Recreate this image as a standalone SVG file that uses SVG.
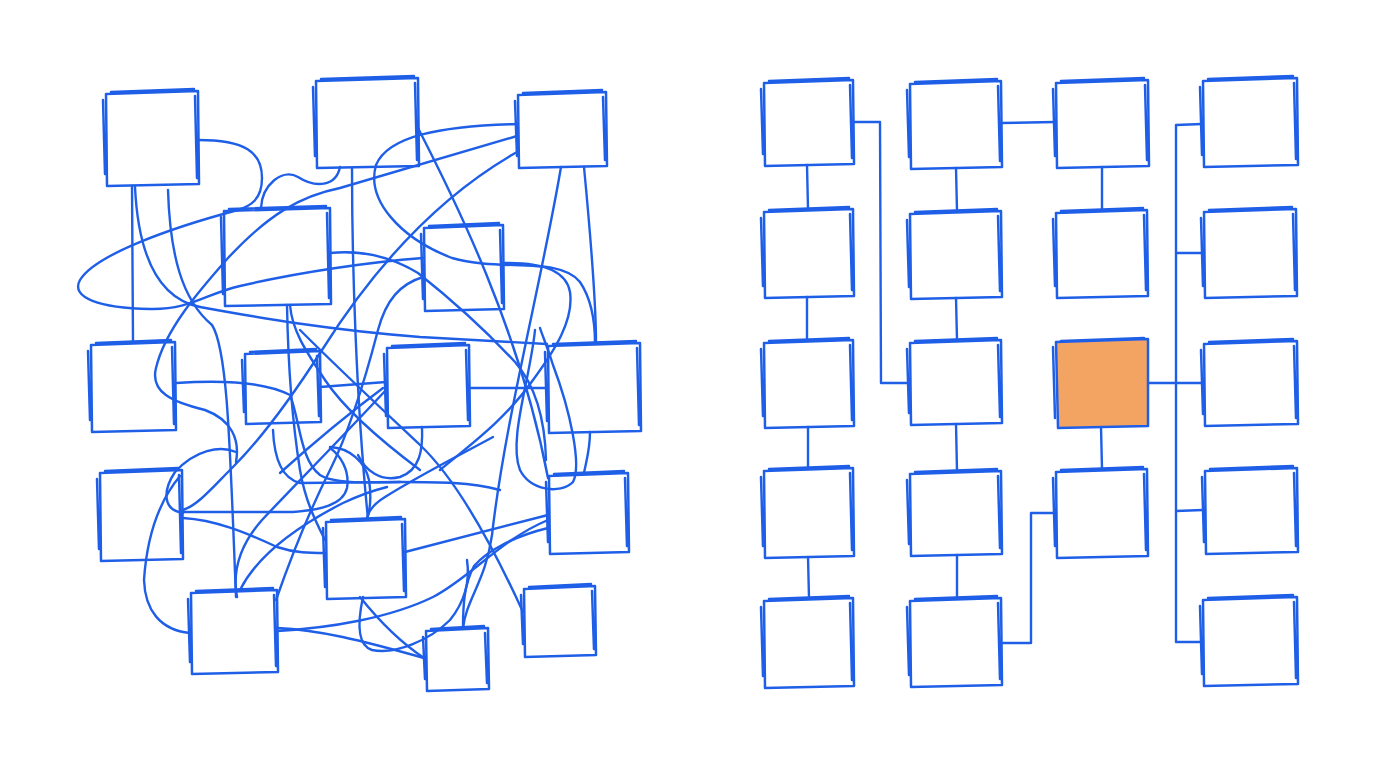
<svg xmlns="http://www.w3.org/2000/svg" width="1376" height="768" viewBox="0 0 1376 768">
<style>
.b{fill:none;stroke:#1f5fe8;stroke-width:2.5;stroke-linecap:round;stroke-linejoin:round}
.c{fill:none;stroke:#1f5fe8;stroke-width:2.4;stroke-linecap:round;stroke-linejoin:round}
.o{fill:#f4a462;stroke:#1f5fe8;stroke-width:2.5;stroke-linejoin:round}
</style>
<rect width="1376" height="768" fill="#ffffff"/>
<g id="tangle-connectors">
<path class="c" d="M198,140 C245,140 262,152 262,178 C262,200 250,206 238,210 C170,228 95,255 80,280 C70,298 100,308 150,309 C190,310 205,294 240,286 C300,272 370,262 423,258"/>
<path class="c" d="M132,186 L133,342"/>
<path class="c" d="M135,187 C138,250 155,298 200,307 C260,318 330,330 420,337 L547,344"/>
<path class="c" d="M168,190 C170,255 182,300 212,325 C228,350 230,450 236,597"/>
<path class="c" d="M352,168 C352,260 356,400 368,519"/>
<path class="c" d="M340,167 C336,187 315,188 298,177 C282,168 262,185 261,208"/>
<path class="c" d="M418,128 C455,200 520,330 548,478"/>
<path class="c" d="M517,124 C440,126 388,136 376,165 C366,200 400,238 452,258 C500,272 560,256 580,282 C592,300 595,322 595,343"/>
<path class="c" d="M517,136 L340,188 C300,196 268,215 228,258 C198,292 165,330 156,368 C150,392 172,402 205,410 C232,420 240,440 236,462"/>
<path class="c" d="M561,167 C542,280 505,420 492,535 C486,580 466,600 463,628"/>
<path class="c" d="M584,167 C590,230 596,300 596,343"/>
<path class="c" d="M517,152 C450,190 385,250 322,350 C290,400 262,438 232,468 C212,488 198,505 183,510"/>
<path class="c" d="M423,277 C400,284 386,300 378,330 C365,380 350,430 330,470 C305,520 290,560 276,600"/>
<path class="c" d="M330,253 C360,250 390,256 418,273 C452,300 490,335 515,362 C535,385 545,420 546,460"/>
<path class="c" d="M503,263 C540,262 566,270 570,292 C574,320 555,350 533,380 C505,420 470,445 440,470"/>
<path class="c" d="M469,388 L547,388"/>
<path class="c" d="M535,330 C530,380 508,440 520,470 C530,490 560,495 573,482 C582,465 570,410 553,365 C547,345 542,335 540,328"/>
<path class="c" d="M590,432 C590,450 586,462 584,473"/>
<path class="c" d="M548,528 C515,536 488,550 474,566 C464,585 463,605 463,628"/>
<path class="c" d="M405,552 L548,515"/>
<path class="c" d="M300,330 C340,370 385,412 420,445 C455,478 490,540 523,612"/>
<path class="c" d="M360,597 C380,622 400,642 424,658"/>
<path class="c" d="M277,628 C320,630 360,640 424,658"/>
<path class="c" d="M277,631 C330,628 390,618 433,597 C470,578 500,540 548,520"/>
<path class="c" d="M363,597 C358,620 356,645 372,650 C395,655 430,640 450,620 C466,600 470,580 467,560"/>
<path class="c" d="M493,437 C460,455 420,475 385,497 C372,505 368,512 367,519"/>
<path class="c" d="M422,427 C423,450 420,470 400,477 C380,482 365,470 358,455"/>
<path class="c" d="M176,383 C220,380 265,382 290,395 C300,420 300,460 320,475 C335,485 380,482 400,482"/>
<path class="c" d="M236,452 C220,445 195,450 175,472 C163,490 162,510 183,513"/>
<path class="c" d="M183,512 L293,512 C320,510 343,505 347,488 C350,470 340,455 330,448"/>
<path class="c" d="M183,518 C215,520 245,532 277,547 C295,553 310,553 325,553"/>
<path class="c" d="M180,476 C160,500 147,535 144,580 C145,610 160,630 190,633"/>
<path class="c" d="M237,597 C232,570 240,545 262,520 C290,490 330,450 386,390"/>
<path class="c" d="M240,590 C255,560 290,530 343,503 C360,495 375,490 387,487"/>
<path class="c" d="M273,430 C274,455 280,478 300,483 L400,482 C440,482 470,482 500,490"/>
<path class="c" d="M330,447 C350,448 365,462 369,480 C372,500 370,510 367,519"/>
<path class="c" d="M320,387 L386,382"/>
<path class="c" d="M280,473 C300,455 340,420 383,388"/>
<path class="c" d="M290,305 C292,330 305,350 325,380 C345,410 380,440 420,470"/>
<path class="c" d="M287,305 C288,360 292,420 300,470 C305,500 315,520 325,540"/>
</g>
<g id="n1"><path class="b" d="M106,94 L198,91 L199,184 L107,186 Z M111,92 L194,89 M195,96 L197,178 M103,100 L105,174"/></g>
<g id="n2"><path class="b" d="M316,81 L418,78 L419,166 L317,168 Z M321,79 L414,76 M415,83 L417,160 M313,87 L315,156"/></g>
<g id="n3"><path class="b" d="M518,95 L606,92 L607,166 L519,168 Z M523,93 L602,90 M603,97 L605,160 M515,101 L517,156"/></g>
<g id="n4"><path class="b" d="M224,211 L330,208 L331,304 L225,306 Z M229,209 L326,206 M327,213 L329,298 M221,217 L223,294"/></g>
<g id="n5"><path class="b" d="M424,228 L503,225 L504,309 L425,311 Z M429,226 L499,223 M500,230 L502,303 M421,234 L423,299"/></g>
<g id="n6"><path class="b" d="M91,345 L175,342 L176,430 L92,432 Z M96,343 L171,340 M172,347 L174,424 M88,351 L90,420"/></g>
<g id="n7"><path class="b" d="M245,354 L320,351 L321,422 L246,424 Z M250,352 L316,349 M317,356 L319,416 M242,360 L244,412"/></g>
<g id="n8"><path class="b" d="M387,348 L469,345 L470,426 L388,428 Z M392,346 L465,343 M466,350 L468,420 M384,354 L386,416"/></g>
<g id="n9"><path class="b" d="M548,346 L640,343 L641,431 L549,433 Z M553,344 L636,341 M637,348 L639,425 M545,352 L547,421"/></g>
<g id="n10"><path class="b" d="M100,473 L182,470 L183,559 L101,561 Z M105,471 L178,468 M179,475 L181,553 M97,479 L99,549"/></g>
<g id="n11"><path class="b" d="M549,476 L628,473 L629,552 L550,554 Z M554,474 L624,471 M625,478 L627,546 M546,482 L548,542"/></g>
<g id="n12"><path class="b" d="M326,522 L405,519 L406,597 L327,599 Z M331,520 L401,517 M402,524 L404,591 M323,528 L325,587"/></g>
<g id="n13"><path class="b" d="M191,593 L277,590 L278,672 L192,674 Z M196,591 L273,588 M274,595 L276,666 M188,599 L190,662"/></g>
<g id="n14"><path class="b" d="M524,589 L595,586 L596,655 L525,657 Z M529,587 L591,584 M592,591 L594,649 M521,595 L523,644"/></g>
<g id="n15"><path class="b" d="M426,631 L488,628 L489,689 L427,691 Z M431,629 L484,626 M485,633 L487,683 M423,637 L425,679"/></g>
<g id="grid-connectors">
<path class="c" d="M807,165 L808,209 M807,297 L807,340 M808,427 L808,468 M808,557 L809,598"/>
<path class="c" d="M956,168 L957,211 M956,298 L957,340 M956,424 L957,471 M957,555 L957,598"/>
<path class="c" d="M1102,167 L1102,210 M1101,427 L1102,469"/>
<path class="c" d="M852,122 L880,122 L881,383 L909,383"/>
<path class="c" d="M1001,123 L1055,122"/>
<path class="c" d="M1202,124 L1176,125 L1176,642 L1203,642 M1176,253 L1203,253 M1176,511 L1203,510 M1148,383 L1203,383"/>
<path class="c" d="M1001,643 L1031,643 L1031,513 L1055,513"/>
</g>
<g id="g11"><path class="b" d="M764,83 L853,80 L854,164 L765,166 Z M769,81 L849,78 M850,85 L852,158 M761,89 L763,154"/></g>
<g id="g21"><path class="b" d="M764,212 L853,209 L854,296 L765,298 Z M769,210 L849,207 M850,214 L852,290 M761,218 L763,286"/></g>
<g id="g31"><path class="b" d="M764,343 L853,340 L854,426 L765,428 Z M769,341 L849,338 M850,345 L852,420 M761,349 L763,416"/></g>
<g id="g41"><path class="b" d="M764,471 L853,468 L854,556 L765,558 Z M769,469 L849,466 M850,473 L852,550 M761,477 L763,546"/></g>
<g id="g51"><path class="b" d="M764,601 L853,598 L854,686 L765,688 Z M769,599 L849,596 M850,603 L852,680 M761,607 L763,676"/></g>
<g id="g12"><path class="b" d="M910,84 L1001,81 L1002,167 L911,169 Z M915,82 L997,79 M998,86 L1000,161 M907,90 L909,157"/></g>
<g id="g22"><path class="b" d="M910,214 L1001,211 L1002,297 L911,299 Z M915,212 L997,209 M998,216 L1000,291 M907,220 L909,287"/></g>
<g id="g32"><path class="b" d="M910,343 L1001,340 L1002,423 L911,425 Z M915,341 L997,338 M998,345 L1000,417 M907,349 L909,413"/></g>
<g id="g42"><path class="b" d="M910,474 L1001,471 L1002,554 L911,556 Z M915,472 L997,469 M998,476 L1000,548 M907,480 L909,544"/></g>
<g id="g52"><path class="b" d="M910,601 L1001,598 L1002,685 L911,687 Z M915,599 L997,596 M998,603 L1000,679 M907,607 L909,675"/></g>
<g id="g13"><path class="b" d="M1056,83 L1148,80 L1149,166 L1057,168 Z M1061,81 L1144,78 M1145,85 L1147,160 M1053,89 L1055,156"/></g>
<g id="g23"><path class="b" d="M1056,213 L1147,210 L1148,296 L1057,298 Z M1061,211 L1143,208 M1144,215 L1146,290 M1053,219 L1055,286"/></g>
<g id="g33"><path class="o" d="M1056,342 L1148,339 L1148,426 L1058,428 Z"/><path class="b" d="M1053,347 L1055,418 M1061,341 L1144,338"/></g>
<g id="g43"><path class="b" d="M1056,472 L1147,469 L1148,556 L1057,558 Z M1061,470 L1143,467 M1144,474 L1146,550 M1053,478 L1055,546"/></g>
<g id="g14"><path class="b" d="M1203,81 L1297,78 L1298,165 L1204,167 Z M1208,79 L1293,76 M1294,83 L1296,159 M1200,87 L1202,155"/></g>
<g id="g24"><path class="b" d="M1204,212 L1296,209 L1297,296 L1205,298 Z M1209,210 L1292,207 M1293,214 L1295,290 M1201,218 L1203,286"/></g>
<g id="g34"><path class="b" d="M1204,344 L1297,341 L1298,424 L1205,426 Z M1209,342 L1293,339 M1294,346 L1296,418 M1201,350 L1203,414"/></g>
<g id="g44"><path class="b" d="M1205,471 L1297,468 L1298,552 L1206,554 Z M1210,469 L1293,466 M1294,473 L1296,546 M1202,477 L1204,542"/></g>
<g id="g54"><path class="b" d="M1203,600 L1297,597 L1298,684 L1204,686 Z M1208,598 L1293,595 M1294,602 L1296,678 M1200,606 L1202,674"/></g>
</svg>
